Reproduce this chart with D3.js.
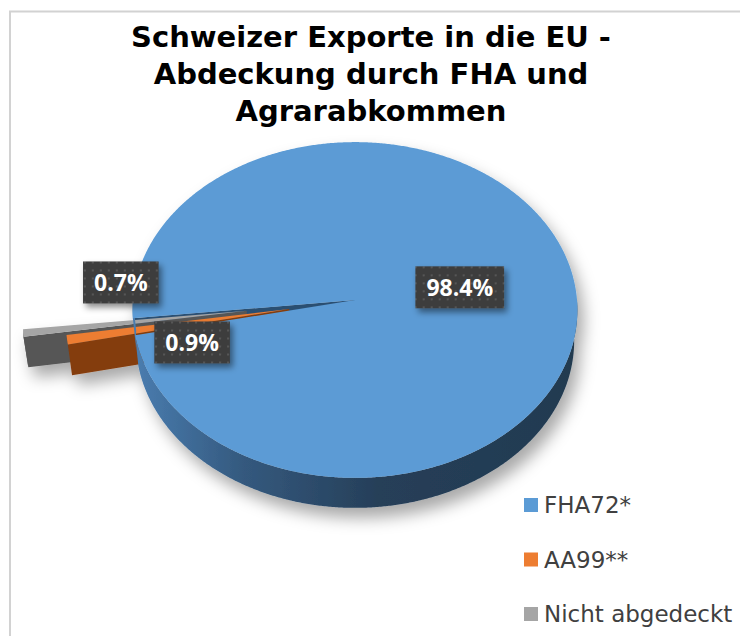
<!DOCTYPE html>
<html><head><meta charset="utf-8">
<script src="https://cdn.jsdelivr.net/npm/d3@7"></script>
<style>body{margin:0;background:#fff}svg{display:block}</style>
</head><body>
<script>
// ---- data ----
const categories = ["FHA72*", "AA99**", "Nicht abgedeckt"];
const shares = [98.4, 0.9, 0.7];
const valueLabels = ["98.4%", "0.9%", "0.7%"];
const titleLines = ["Schweizer Exporte in die EU -", "Abdeckung durch FHA und", "Agrarabkommen"];
const topColors = ["#5b9bd5", "#ed7d31", "#a5a5a5"];
const faceColors = ["#2c4f72", "#843c0c", "#575757"];
const explode = [0, 0.30, 0.49];

const W = 740, H = 636;
const svg = d3.select("body").append("svg").attr("width", W).attr("height", H);
const defs = svg.append("defs");

// frame
svg.append("path").attr("d", `M10,${H} L10,11.5 L${W},11.5`).attr("fill", "none")
  .attr("stroke", "#d2d2d2").attr("stroke-width", 2);

// ---- 3D projection ----
const cx = 355, cy = 300, rx = 222;
const elev = 48.9 * Math.PI / 180, SE = Math.sin(elev), CE = Math.cos(elev);
const Dc = 11.05, F = rx * Dc, T = 0.214;
function proj(u, v, h) { const yc = v * SE - h * CE, zc = Dc - v * CE - h * SE; return [cx + F * u / zc, cy + F * yc / zc]; }

const startDeg = 263.76;
const pie = d3.pie().sort(null).startAngle(startDeg * Math.PI / 180).endAngle(startDeg * Math.PI / 180 + 2 * Math.PI);
const arcs = pie(shares).map((a, i) => {
  const t0 = a.startAngle - Math.PI / 2, t1 = a.endAngle - Math.PI / 2, tm = (t0 + t1) / 2;
  return { i, t0, t1, tm, sx: explode[i] * Math.cos(tm), sy: explode[i] * Math.sin(tm) };
});
const line = d3.line();
function pt(s, th, r, h) { return proj(s.sx + r * Math.cos(th), s.sy + r * Math.sin(th), h); }
function arcPts(s, a, b, h) {
  const n = Math.max(2, Math.ceil(Math.abs(b - a) / (0.4 * Math.PI / 180)));
  return d3.range(n + 1).map(k => pt(s, a + (b - a) * k / n, 1, h));
}
function topPath(s) { return line([pt(s, 0, 0, 0), ...arcPts(s, s.t0, s.t1, 0)]) + "Z"; }
function wallPaths(s) {
  const out = [];
  for (let k = -1; k <= 3; k++) {
    const a = Math.max(s.t0, 2 * Math.PI * k), b = Math.min(s.t1, 2 * Math.PI * k + Math.PI);
    if (b > a) out.push(line([...arcPts(s, a, b, 0), ...arcPts(s, b, a, -T)]) + "Z");
  }
  return out;
}
function facePath(s, th) {
  return line([pt(s, th, 0, 0), pt(s, th, 1, 0), pt(s, th, 1, -T), pt(s, th, 0, -T)]) + "Z";
}
function visibleFaces(s) {
  const f = [];
  if (-Math.cos(s.t0) > 0) f.push(s.t0);
  if (Math.cos(s.t1) > 0) f.push(s.t1);
  return f;
}

// gradient for blue wall
const lg = defs.append("linearGradient").attr("id", "wallBlue").attr("gradientUnits", "userSpaceOnUse")
  .attr("x1", cx - rx).attr("x2", cx + rx).attr("y1", 0).attr("y2", 0);
[[0, "#4a7db0"], [0.25, "#34597e"], [0.55, "#263f59"], [1, "#223a50"]].forEach(([o, c]) => lg.append("stop").attr("offset", o).attr("stop-color", c));

// shadow
const sh = defs.append("filter").attr("id", "pieShadow").attr("x", "-20%").attr("y", "-20%").attr("width", "140%").attr("height", "150%");
sh.append("feDropShadow").attr("dx", 6).attr("dy", 10).attr("stdDeviation", 8).attr("flood-color", "#000").attr("flood-opacity", 0.34);

const g = svg.append("g").attr("filter", "url(#pieShadow)");
const big = arcs[0];
visibleFaces(big).forEach(th => g.append("path").attr("d", facePath(big, th)).attr("fill", faceColors[0]));
const small = arcs.slice(1).sort((a, b) => Math.sin(a.tm) - Math.sin(b.tm));
small.forEach(s => {
  visibleFaces(s).forEach(th => g.append("path").attr("d", facePath(s, th)).attr("fill", faceColors[s.i]));
  wallPaths(s).forEach(d => g.append("path").attr("d", d).attr("fill", faceColors[s.i]));
  g.append("path").attr("d", topPath(s)).attr("fill", topColors[s.i]);
});
wallPaths(big).forEach(d => g.append("path").attr("d", d).attr("fill", "url(#wallBlue)"));
g.append("path").attr("d", topPath(big)).attr("fill", topColors[0]);

// ---- data labels ----
const pat = defs.append("pattern").attr("id", "dots").attr("patternUnits", "userSpaceOnUse").attr("width", 8).attr("height", 8);
pat.append("rect").attr("width", 8).attr("height", 8).attr("fill", "#3d3d3d");
pat.append("rect").attr("x", 3).attr("y", 3).attr("width", 2).attr("height", 2).attr("fill", "#575757");
const ls = defs.append("filter").attr("id", "lblShadow").attr("x", "-20%").attr("y", "-30%").attr("width", "150%").attr("height", "180%");
ls.append("feDropShadow").attr("dx", 3).attr("dy", 4).attr("stdDeviation", 3).attr("flood-color", "#000").attr("flood-opacity", 0.45);

const labelR = [0.48, 0.44, 0.44];
const labelShift = [[0, 0], [0, 20], [-28, -38]];
arcs.forEach((s, i) => {
  const p = pt(s, s.tm, labelR[i], 0);
  const x = p[0] + labelShift[i][0], y = p[1] + labelShift[i][1];
  const lgp = svg.append("g").attr("transform", `translate(${x},${y})`);
  const rect = lgp.append("rect").attr("fill", "url(#dots)").attr("filter", "url(#lblShadow)");
  const tx = lgp.append("text").attr("text-anchor", "middle").attr("dy", "0.36em")
    .attr("font-family", "'Open Sans', sans-serif").attr("font-weight", "bold").attr("font-size", 23)
    .attr("fill", "#fff").text(valueLabels[i]);
  const w = tx.node().getComputedTextLength() + 22, h = 42;
  rect.attr("x", -w / 2).attr("y", -h / 2).attr("width", w).attr("height", h);
});

// ---- title ----
const title = svg.append("text").attr("text-anchor", "middle").attr("font-family", "'DejaVu Sans', Verdana, sans-serif")
  .attr("font-weight", "bold").attr("font-size", 29).attr("fill", "#000");
titleLines.forEach((t, i) => title.append("tspan").attr("x", 371).attr("y", 47 + i * 37).text(t));

// ---- legend ----
const ly = d3.scalePoint().domain(categories).range([505, 614]);
const leg = svg.append("g");
categories.forEach((c, i) => {
  leg.append("rect").attr("x", 524).attr("y", ly(c) - 7).attr("width", 14).attr("height", 14).attr("fill", topColors[i]);
  leg.append("text").attr("x", 544).attr("y", ly(c)).attr("dy", "0.36em")
    .attr("font-family", "'DejaVu Sans', Verdana, sans-serif").attr("font-size", 23).attr("fill", "#404040").text(c);
});
</script>
</body></html>
